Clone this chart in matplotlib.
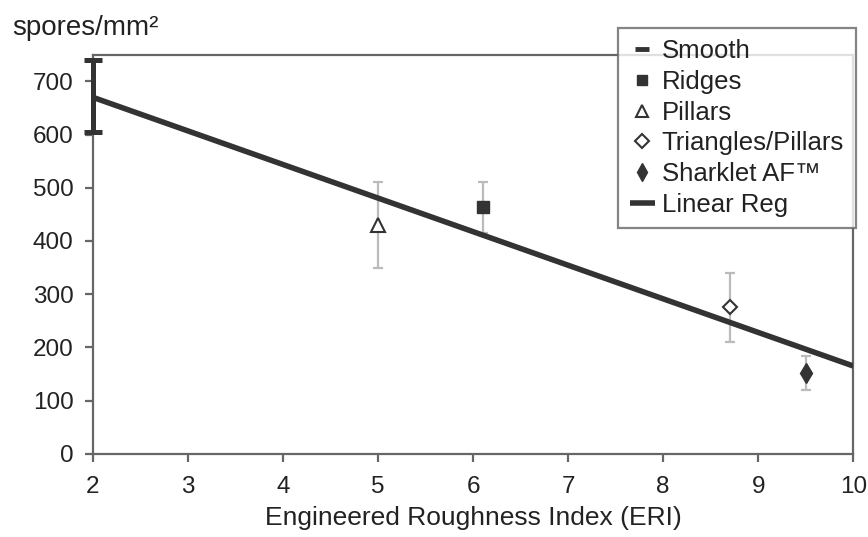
import matplotlib.pyplot as plt
from matplotlib import rc

rc('font', **{'family': 'sans-serif', 'sans-serif': ['Liberation Sans', 'DejaVu Sans']})

fs = 17.5

# data
surfaces = ["Smooth", "Ridges", "Pillars", "Triangles/Pillars", "Sharklet AF™"]
eri = [2.0, 6.1, 5.0, 8.7, 9.5]
spores = [672, 463, 430, 275, 152]
err = [68, 48, 80, 65, 32]
reg_x = [2, 10]
reg_y = [670, 165]

dark = "#333333"
txt = "#222222"
styles = [
    dict(marker="_", ms=11, mew=3.5, mfc=dark, mec=dark),
    dict(marker="s", ms=8, mfc=dark, mec=dark),
    dict(marker="^", ms=10, mfc="white", mec=dark, mew=1.5),
    dict(marker="D", ms=7.5, mfc="white", mec=dark, mew=1.5),
    dict(marker="d", ms=10, mfc=dark, mec=dark),
]

fig = plt.figure(figsize=(8.68, 5.37), dpi=100)
ax = fig.add_axes([0.107, 0.155, 0.876, 0.743])

handles = []
for i, name in enumerate(surfaces):
    if i == 0:
        ax.errorbar(eri[i], spores[i], yerr=err[i], fmt="none", ecolor=dark,
                    elinewidth=3.6, capsize=6.5, capthick=3.6, zorder=5, clip_on=False)
        h, = ax.plot([], [], ls="none", label=name, **styles[i])
    else:
        ax.errorbar(eri[i], spores[i], yerr=err[i], fmt="none", ecolor="#bbbbbb",
                    elinewidth=1.6, capsize=3.5, capthick=1.6, zorder=2)
        h, = ax.plot(eri[i], spores[i], ls="none", label=name, zorder=4, **styles[i])
    handles.append(h)

ln, = ax.plot(reg_x, reg_y, color=dark, lw=4, label="Linear Reg", zorder=3,
              solid_capstyle="butt")
handles.append(ln)

ax.set_xlim(2, 10)
ax.set_ylim(0, 750)
ax.set_xticks(range(2, 11))
ax.set_yticks(range(0, 701, 100))
for s in ax.spines.values():
    s.set_color("#666666")
    s.set_linewidth(1.6)
ax.tick_params(direction="out", length=6, width=1.6, color="#666666", labelsize=fs,
               labelcolor=txt)
ax.tick_params(axis="y", pad=8)
ax.tick_params(axis="x", pad=10)
ax.set_xlabel("Engineered Roughness Index (ERI)", fontsize=19, color=txt, labelpad=6)
fig.text(0.014, 0.935, "spores/mm²", fontsize=20, color=txt)

leg = ax.legend(handles=handles, loc="upper right", bbox_to_anchor=(1.003, 1.068),
                fontsize=18.5, frameon=True, fancybox=False, handlelength=1.0,
                handletextpad=0.25, borderpad=0.45, labelspacing=0.26,
                borderaxespad=0, markerscale=0.9)
leg.get_frame().set_edgecolor("#666666")
leg.get_frame().set_linewidth(1.6)
for t in leg.get_texts():
    t.set_color(txt)

fig.savefig("out.png", dpi=100)
